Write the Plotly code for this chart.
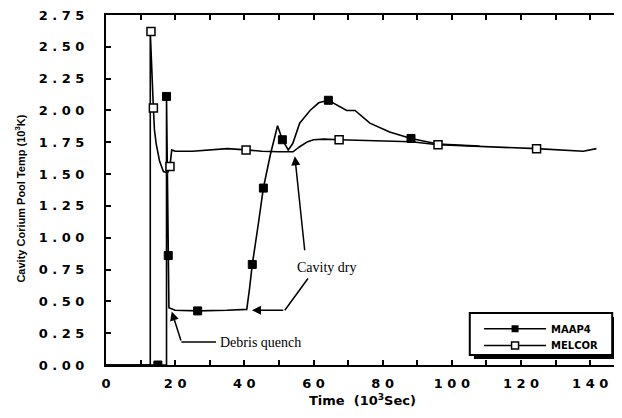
import plotly.graph_objects as go

# ---------------- data ----------------
melcor_x = [0, 12.8, 12.8, 13.2, 13.7, 14.0, 14.5, 15.5, 16.6, 17.8, 18.5, 19.0, 20, 25, 30, 35, 40.5, 45, 50,
            54.1, 56, 58.3, 60, 63, 67.4, 75, 88.3, 96, 107, 124.5, 138, 141.8]
melcor_y = [0, 0, 2.62, 2.30, 2.02, 1.85, 1.74, 1.60, 1.52, 1.51, 1.56, 1.69, 1.68, 1.68, 1.69, 1.70, 1.69, 1.68,
            1.675, 1.675, 1.715, 1.755, 1.77, 1.775, 1.77, 1.765, 1.754, 1.73, 1.72, 1.70, 1.68, 1.70]
melcor_mx = [13.0, 13.7, 18.5, 40.5, 67.4, 96, 124.5]
melcor_my = [2.62, 2.02, 1.56, 1.69, 1.77, 1.73, 1.70]

maap_x = [0, 15, 17.5, 17.5, 17.8, 18.0, 18.2, 20, 26.5, 35, 40.7, 41.5, 42.3, 44, 45.5, 47.5, 49.6, 51,
          52.7, 54, 56, 59, 61.5, 64.3, 67, 69.6, 72, 76.3, 82, 88.2, 96, 108]
maap_y = [0, 0, 0, 2.11, 1.50, 0.86, 0.45, 0.43, 0.425, 0.43, 0.437, 0.60, 0.79, 1.10, 1.39, 1.65, 1.88,
          1.77, 1.69, 1.74, 1.90, 2.00, 2.06, 2.08, 2.04, 2.00, 2.00, 1.90, 1.83, 1.78, 1.736, 1.72]
maap_mx = [15, 17.5, 18.0, 26.5, 42.3, 45.5, 51, 64.3, 88.2]
maap_my = [0, 2.11, 0.86, 0.425, 0.79, 1.39, 1.77, 2.08, 1.78]

x_ticks = list(range(0, 150, 20))
x_labels = ["0", "2 0", "4 0", "6 0", "8 0", "1 0 0", "1 2 0", "1 4 0"]
y_ticks = [i * 0.25 for i in range(12)]
y_labels = ["0 . 0 0", "0 . 2 5", "0 . 5 0", "0 . 7 5", "1 . 0 0", "1 . 2 5", "1 . 5 0", "1 . 7 5",
            "2 . 0 0", "2 . 2 5", "2 . 5 0", "2 . 7 5"]

series_names = ["MAAP4", "MELCOR"]

# ---------------- figure ----------------
fig = go.Figure()
LW = 1.6
fig.add_trace(go.Scatter(x=melcor_x, y=melcor_y, mode="lines", line=dict(color="black", width=LW),
                         showlegend=False, hoverinfo="skip"))
fig.add_trace(go.Scatter(x=maap_x, y=maap_y, mode="lines", line=dict(color="black", width=LW),
                         showlegend=False, hoverinfo="skip"))
fig.add_trace(go.Scatter(x=melcor_mx, y=melcor_my, mode="markers",
                         marker=dict(symbol="square", size=8, color="white", line=dict(color="black", width=1.5)),
                         showlegend=False))
fig.add_trace(go.Scatter(x=maap_mx, y=maap_my, mode="markers",
                         marker=dict(symbol="square", size=8, color="black", line=dict(color="black", width=1)),
                         showlegend=False))
# legend entries
fig.add_trace(go.Scatter(x=[None], y=[None], mode="lines+markers", name=series_names[0],
                         line=dict(color="black", width=LW), legend="legend",
                         marker=dict(symbol="square", size=7, color="black")))
fig.add_trace(go.Scatter(x=[None], y=[None], mode="lines+markers", name=series_names[1],
                         line=dict(color="black", width=LW), legend="legend2",
                         marker=dict(symbol="square", size=7, color="white", line=dict(color="black", width=1.5))))

tickfont = dict(family="DejaVu Sans", size=13, color="black", weight="bold")

fig.update_xaxes(range=[0, 149.2], tickvals=x_ticks, ticktext=x_labels, ticks="inside", ticklen=5,
                 tickwidth=1.5, tickcolor="black", showline=True, linewidth=2, linecolor="black",
                 minor=dict(dtick=10, tick0=0, ticks="inside", ticklen=5, tickwidth=1.5, tickcolor="black"),
                 mirror="ticks", showgrid=False, zeroline=False, tickfont=tickfont, ticklabelstandoff=5,
                 automargin=False, ticklabeloverflow="allow")
fig.update_yaxes(range=[0, 2.75], tickvals=y_ticks, ticktext=y_labels, ticks="inside", ticklen=5,
                 tickwidth=1.5, tickcolor="black", showline=True, linewidth=2, linecolor="black",
                 mirror="ticks", showgrid=False, zeroline=False, tickfont=tickfont, ticklabelstandoff=17,
                 automargin=False, ticklabeloverflow="allow")

annots = [
    dict(text="Time  (10<sup>3</sup>Sec)", xref="paper", yref="paper", x=0.498, y=-0.1, xanchor="center",
         yanchor="middle", showarrow=False, font=dict(family="DejaVu Sans", size=13, color="black", weight="bold")),
    dict(text="Cavity Corium Pool Temp (10<sup>3</sup>K)", xref="paper", yref="paper", x=-0.167, y=0.475,
         xanchor="center", yanchor="middle", textangle=-90, showarrow=False,
         font=dict(family="Liberation Sans", size=11, color="black", weight="bold")),
    dict(text="Cavity dry", x=63.9, y=0.77, xref="x", yref="y", showarrow=False,
         font=dict(family="Liberation Serif", size=14, color="black")),
    dict(text="Debris quench", x=44.8, y=0.18, xref="x", yref="y", showarrow=False,
         font=dict(family="Liberation Serif", size=14, color="black")),
    # arrows
    dict(x=54.6, y=1.64, ax=57.5, ay=0.89, xref="x", yref="y", axref="x", ayref="y", text="",
         showarrow=True, arrowhead=2, arrowsize=1.2, arrowwidth=1.5, arrowcolor="black"),
    dict(x=42.2, y=0.43, ax=51.7, ay=0.43, xref="x", yref="y", axref="x", ayref="y", text="",
         showarrow=True, arrowhead=2, arrowsize=1.2, arrowwidth=1.5, arrowcolor="black"),
    dict(x=19.0, y=0.42, ax=21.8, ay=0.18, xref="x", yref="y", axref="x", ayref="y", text="",
         showarrow=True, arrowhead=2, arrowsize=1.2, arrowwidth=1.5, arrowcolor="black"),
]

shapes = [
    dict(type="line", xref="x", yref="y", x0=58.4, y0=0.68, x1=51.7, y1=0.43,
         line=dict(color="black", width=1.5)),
    dict(type="line", xref="x", yref="y", x0=31.8, y0=0.18, x1=21.8, y1=0.18,
         line=dict(color="black", width=1.5)),
    # legend shadow + box
    dict(type="rect", xref="paper", yref="paper", x0=0.713, y0=0.017, x1=0.988, y1=0.137,
         fillcolor="black", line=dict(width=0)),
    dict(type="rect", xref="paper", yref="paper", x0=0.705, y0=0.0286, x1=0.981, y1=0.1486,
         fillcolor="white", line=dict(color="black", width=2)),
]

legfont = dict(family="DejaVu Sans", size=10, color="black", weight="bold")
fig.update_layout(
    width=614, height=410,
    margin=dict(l=98, r=0, t=7, b=53),
    paper_bgcolor="white", plot_bgcolor="white",
    annotations=annots, shapes=shapes,
    legend=dict(x=0.723, y=0.145, xanchor="left", yanchor="top", bgcolor="rgba(0,0,0,0)",
                borderwidth=0, itemwidth=62, font=legfont),
    legend2=dict(x=0.723, y=0.097, xanchor="left", yanchor="top", bgcolor="rgba(0,0,0,0)",
                 borderwidth=0, itemwidth=62, font=legfont),
    showlegend=True,
)

fig.write_html("out.html")
